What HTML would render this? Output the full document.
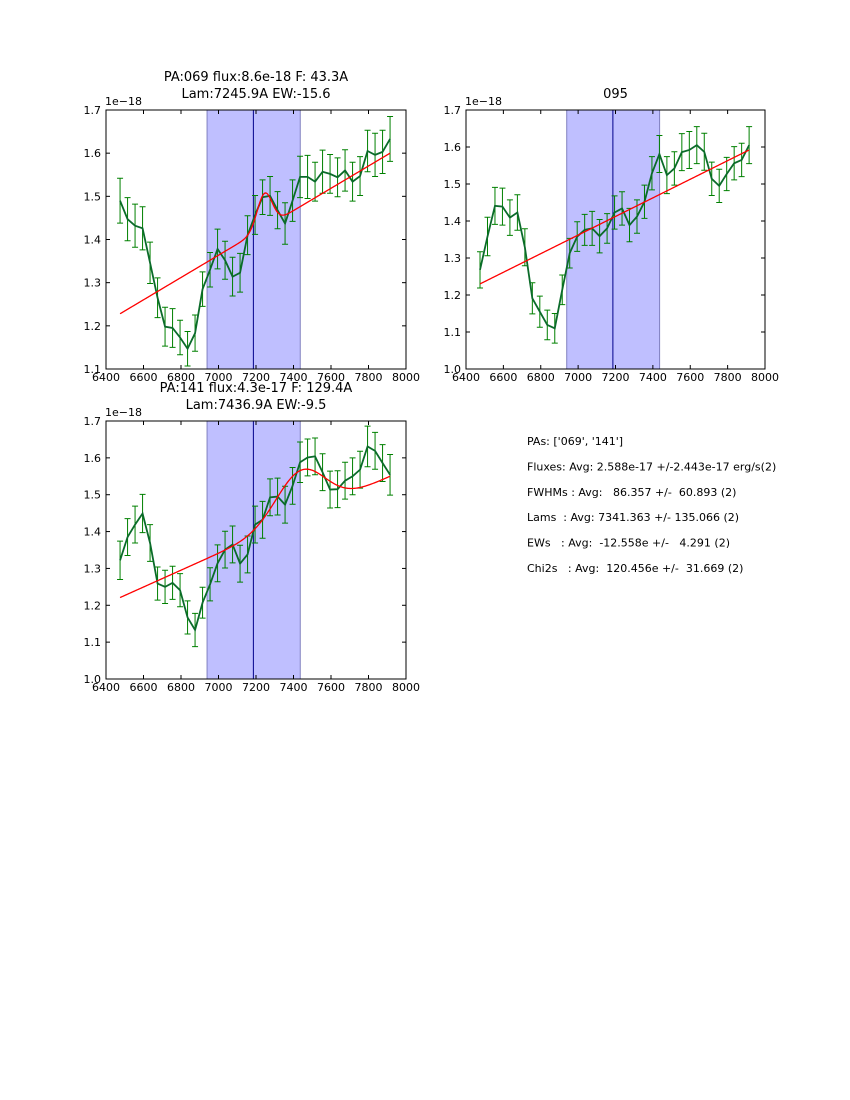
<!DOCTYPE html>
<html><head><meta charset="utf-8">
<style>
body{margin:0;background:#fff;width:850px;height:1100px;overflow:hidden;font-family:"DejaVu Sans",sans-serif}
svg{position:absolute;left:0;top:0}
</style></head>
<body>
<svg id="fig" width="850" height="1100"></svg>
<script>
const lams=[6475,6515,6555,6595,6635,6675,6715,6755,6795,6835,6875,6915,6955,6995,7035,7075,7115,7155,7195,7235,7275,7315,7355,7395,7435,7475,7515,7555,7595,7635,7675,7715,7755,7795,7835,7875,7915];
const flux069=[1.49,1.447,1.432,1.426,1.346,1.265,1.198,1.195,1.173,1.147,1.183,1.285,1.33,1.378,1.352,1.314,1.323,1.41,1.457,1.498,1.501,1.468,1.437,1.49,1.545,1.545,1.534,1.557,1.552,1.544,1.56,1.534,1.547,1.605,1.596,1.603,1.633];
const err069=[0.052,0.05,0.05,0.05,0.048,0.046,0.045,0.045,0.04,0.04,0.042,0.04,0.04,0.046,0.044,0.045,0.045,0.045,0.045,0.04,0.045,0.043,0.048,0.048,0.048,0.05,0.045,0.05,0.045,0.045,0.048,0.045,0.045,0.048,0.05,0.05,0.052];
const flux095=[1.268,1.358,1.441,1.439,1.409,1.423,1.329,1.191,1.155,1.119,1.11,1.214,1.313,1.358,1.376,1.38,1.359,1.38,1.423,1.434,1.389,1.412,1.452,1.529,1.581,1.524,1.542,1.586,1.592,1.605,1.587,1.514,1.495,1.527,1.556,1.565,1.605];
const err095=[0.049,0.052,0.05,0.05,0.048,0.048,0.05,0.042,0.042,0.04,0.04,0.04,0.04,0.04,0.042,0.046,0.045,0.04,0.045,0.045,0.045,0.045,0.045,0.045,0.05,0.05,0.045,0.05,0.05,0.05,0.05,0.045,0.045,0.045,0.045,0.045,0.05];
const flux141=[1.322,1.385,1.419,1.449,1.369,1.259,1.25,1.261,1.241,1.167,1.133,1.207,1.257,1.314,1.351,1.365,1.313,1.338,1.419,1.432,1.493,1.495,1.473,1.524,1.588,1.601,1.604,1.561,1.514,1.515,1.538,1.55,1.568,1.631,1.619,1.586,1.554];
const err141=[0.052,0.05,0.05,0.052,0.05,0.045,0.045,0.045,0.045,0.045,0.045,0.042,0.045,0.05,0.05,0.05,0.05,0.05,0.05,0.05,0.05,0.05,0.05,0.05,0.055,0.05,0.05,0.05,0.05,0.05,0.05,0.05,0.05,0.055,0.05,0.05,0.055];
// fit parameters: [baseline start, baseline end, gauss center, amplitude, sigma]
const fit069=[1.228,1.600,7245.9,0.08,40];
const fit095=[1.230,1.592,7245.9,0,40];
const fit141=[1.221,1.550,7436.9,0.125,130];
const band=[6939,7436];
const vline=7186;
const xTicks=[6400,6600,6800,7000,7200,7400,7600,7800,8000];
const yTicks1=[1.1,1.2,1.3,1.4,1.5,1.6,1.7];
const yTicks2=[1.0,1.1,1.2,1.3,1.4,1.5,1.6,1.7];
const statLines=["PAs: ['069', '141']","Fluxes: Avg: 2.588e-17 +/-2.443e-17 erg/s(2)","FWHMs : Avg:   86.357 +/-  60.893 (2)","Lams  : Avg: 7341.363 +/- 135.066 (2)","EWs   : Avg:  -12.558e +/-   4.291 (2)","Chi2s   : Avg:  120.456e +/-  31.669 (2)"];

const NS="http://www.w3.org/2000/svg";
const fig=document.getElementById('fig');
const FONT='"DejaVu Sans","Liberation Sans",sans-serif';
function mk(tag,attrs,parent){const e=document.createElementNS(NS,tag);for(const k in attrs)e.setAttribute(k,attrs[k]);(parent||fig).appendChild(e);return e;}
function txt(s,x,y,size,anchor,parent){const t=mk('text',{x:x,y:y,'font-size':size,'text-anchor':anchor||'start',fill:'#000','font-family':FONT},parent);t.textContent=s;return t;}

function panel(name,L,T,W,H,ymin,ymax,yTicks,flux,err,fit,titles){
  const g=mk('g',{});
  
  
  const xs=v=>L+(v-6400)/1600*W;
  const ys=v=>T+H-(v-ymin)/(ymax-ymin)*H;
  const b=mk('rect',{x:xs(band[0]),y:T,width:xs(band[1])-xs(band[0]),height:H,fill:'#bfbfff',stroke:'#8080c0','stroke-width':1},g);
  
  
  const vl=mk('line',{x1:xs(vline),x2:xs(vline),y1:T,y2:T+H,stroke:'#00008b','stroke-width':1},g);
  
  
  for(let i=0;i<lams.length;i++){
    const x=xs(lams[i]),y1=ys(flux[i]-err[i]),y2=ys(flux[i]+err[i]);
    const eb=mk('path',{d:`M${x},${y1}V${y2}M${x-3},${y1}h6M${x-3},${y2}h6`,stroke:'#008000','stroke-width':1,fill:'none'},g);
    
    
  }
  const pts=lams.map((l,i)=>xs(l)+','+ys(flux[i])).join(' ');
  const dl=mk('polyline',{points:pts,fill:'none',stroke:'#0b6b2a','stroke-width':1.8},g);
  
  
  const l0=lams[0],l1=lams[lams.length-1];
  let fp=[];
  for(let l=l0;l<=l1+0.1;l+=5){
    const base=fit[0]+(fit[1]-fit[0])*(l-l0)/(l1-l0);
    const v=base+fit[3]*Math.exp(-Math.pow(l-fit[2],2)/(2*fit[4]*fit[4]));
    fp.push(xs(l)+','+ys(v));
  }
  const fl=mk('polyline',{points:fp.join(' '),fill:'none',stroke:'#ff0000','stroke-width':1.3},g);
  
  
  const fr=mk('rect',{x:L,y:T,width:W,height:H,fill:'none',stroke:'#000','stroke-width':1},g);
  
  
  xTicks.forEach(v=>{
    const x=xs(v);
    mk('line',{x1:x,x2:x,y1:T+H,y2:T+H-4,stroke:'#000'},g);
    mk('line',{x1:x,x2:x,y1:T,y2:T+4,stroke:'#000'},g);
    const t=txt(String(v),x,T+H+12,11,'middle',g);
    
    
  });
  yTicks.forEach(v=>{
    const y=ys(v);
    mk('line',{x1:L,x2:L+4,y1:y,y2:y,stroke:'#000'},g);
    mk('line',{x1:L+W,x2:L+W-4,y1:y,y2:y,stroke:'#000'},g);
    const t=txt(v.toFixed(1),L-5,y+4,11,'end',g);
    
    
  });
  const off=txt('1e\u221218',L-1,T-5,11,'start',g);
  
  
  titles.forEach((s,i)=>{
    const t=txt(s,L+W/2,T-29+17*i+(titles.length===1?17:0),13,'middle',g);
    
    
  });
}
panel('pa069',106,110,300,259,1.1,1.7,yTicks1,flux069,err069,fit069,['PA:069 flux:8.6e-18 F: 43.3A','Lam:7245.9A EW:-15.6']);
panel('pa095',466,110,299,259,1.0,1.7,yTicks2,flux095,err095,fit095,['095']);
panel('pa141',106,421,300,258,1.0,1.7,yTicks2,flux141,err141,fit141,['PA:141 flux:4.3e-17 F: 129.4A','Lam:7436.9A EW:-9.5']);
statLines.forEach((s,i)=>{
  const t=txt(s,527,445+25.4*i,11,'start');
  t.setAttribute('xml:space','preserve');
  t.style.whiteSpace='pre';
  
  
});
</script>
</body></html>
